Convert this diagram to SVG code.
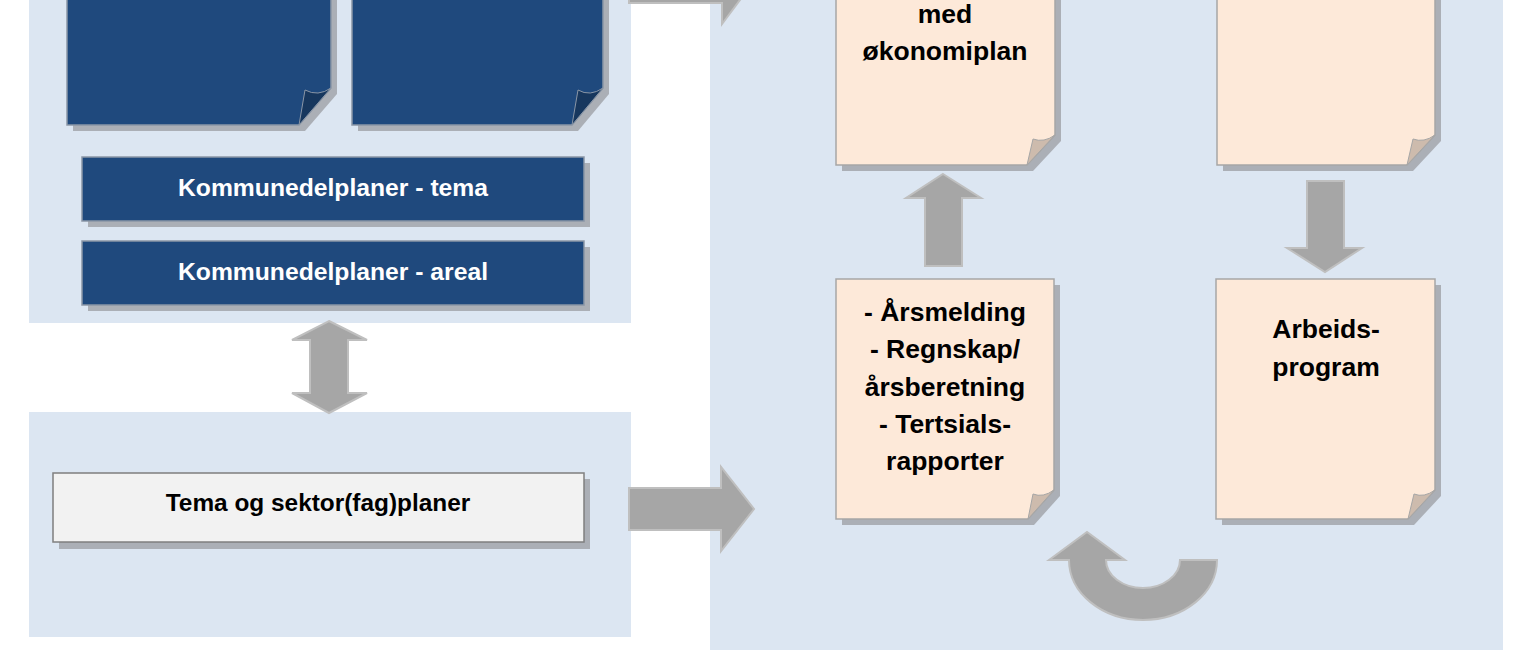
<svg xmlns="http://www.w3.org/2000/svg" width="1524" height="664" viewBox="0 0 1524 664">
<style>
.panel{fill:#DCE6F2}
.shadow{fill:#ABAFB6}
.dark{fill:#1F497D;stroke:#8A96A6;stroke-width:1.5}
.darkflap{fill:#17375E;stroke:#8A96A6;stroke-width:1}
.peach{fill:#FDE9D9;stroke:#A6A6A6;stroke-width:1.5}
.peachflap{fill:#CDBBAD;stroke:#A6A6A6;stroke-width:1}
.light{fill:#F2F2F2;stroke:#7F7F7F;stroke-width:1.5}
.arrow{fill:#A6A6A6;stroke:#BFBFBF;stroke-width:2;stroke-linejoin:miter}
.tw{font-family:"Liberation Sans",Arial,sans-serif;font-weight:bold;font-size:24.7px;fill:#FFFFFF;text-anchor:middle}
.tb{font-family:"Liberation Sans",Arial,sans-serif;font-weight:bold;font-size:24.4px;fill:#000000;text-anchor:middle}
.tn{font-family:"Liberation Sans",Arial,sans-serif;font-weight:bold;font-size:26.5px;fill:#000000;text-anchor:middle}
</style>
<rect width="1524" height="664" fill="#FFFFFF"/>
<g id="panels">
<rect class="panel" x="29" y="0" width="602" height="323"/>
<rect class="panel" x="29" y="412" width="602" height="225"/>
<rect class="panel" x="710" y="0" width="793" height="650"/>
</g>
<g id="note-dark-1">
<path class="shadow" d="M73,-2 H337 V94 L305,131 H73 Z"/>
<path class="dark" d="M67,-2 H331 V88 L299,125 H67 Z"/>
<path class="darkflap" d="M331,88 Q318,97 305,90 L299,125 Z"/>
</g>
<g id="note-dark-2">
<path class="shadow" d="M358,-2 H609 V94 L578,131 H358 Z"/>
<path class="dark" d="M352,-2 H603 V88 L572,125 H352 Z"/>
<path class="darkflap" d="M603,88 Q590,97 578,90 L572,125 Z"/>
</g>
<g id="kdp-tema">
<rect class="shadow" x="88" y="163" width="502" height="64"/>
<rect class="dark" x="82" y="157" width="502" height="64"/>
<text class="tw" x="333" y="196">Kommunedelplaner - tema</text>
</g>
<g id="kdp-areal">
<rect class="shadow" x="88" y="247" width="502" height="64"/>
<rect class="dark" x="82" y="241" width="502" height="64"/>
<text class="tw" x="333" y="280">Kommunedelplaner - areal</text>
</g>
<g id="tema-sektor">
<rect class="shadow" x="59" y="479" width="531" height="70"/>
<rect class="light" x="53" y="473" width="531" height="69"/>
<text class="tb" x="318" y="511">Tema og sektor(fag)planer</text>
</g>
<g id="note-okonomiplan">
<path class="shadow" d="M842,-2 H1061 V141 L1033,171 H842 Z"/>
<path class="peach" d="M836,-2 H1055 V135 L1027,165 H836 Z"/>
<path class="peachflap" d="M1055,135 Q1044,143 1033,139 L1027,165 Z"/>
<text class="tn" x="945" y="23">med</text>
<text class="tn" x="945" y="60">økonomiplan</text>
</g>
<g id="note-top-right">
<path class="shadow" d="M1223,-2 H1441 V141 L1413,171 H1223 Z"/>
<path class="peach" d="M1217,-2 H1435 V135 L1407,165 H1217 Z"/>
<path class="peachflap" d="M1435,135 Q1424,143 1413,139 L1407,165 Z"/>
</g>
<g id="note-arsmelding">
<path class="shadow" d="M842,285 H1060 V496 L1034,525 H842 Z"/>
<path class="peach" d="M836,279 H1054 V490 L1028,519 H836 Z"/>
<path class="peachflap" d="M1054,490 Q1043,498 1033,494 L1028,519 Z"/>
<text class="tn" x="945" y="321">- Årsmelding</text>
<text class="tn" x="945" y="358">- Regnskap/</text>
<text class="tn" x="945" y="396">årsberetning</text>
<text class="tn" x="945" y="433">- Tertsials-</text>
<text class="tn" x="945" y="470">rapporter</text>
</g>
<g id="note-arbeidsprogram">
<path class="shadow" d="M1222,285 H1441 V496 L1414,525 H1222 Z"/>
<path class="peach" d="M1216,279 H1435 V490 L1408,519 H1216 Z"/>
<path class="peachflap" d="M1435,490 Q1424,498 1414,494 L1408,519 Z"/>
<text class="tn" x="1326" y="338">Arbeids-</text>
<text class="tn" x="1326" y="376">program</text>
</g>
<g id="connectors">
<path class="arrow" d="M629,-38 H722 V-59 L753,-17.5 L722,24 V3 H629 Z"/>
<path class="arrow" d="M629,488 H721 V467 L754,509 L721,551 V530 H629 Z"/>
<path class="arrow" d="M329,321 L367,340 H348 V393 H367 L329,413 L292,393 H310 V340 H292 Z"/>
<path class="arrow" d="M943,174 L981,198 H962 V266 H925 V198 H906 Z"/>
<path class="arrow" d="M1307,181 H1344 V248 H1362 L1325,272 L1287,248 H1307 Z"/>
<path class="arrow" d="M1049,560 L1087,532 L1125,560 H1106 A37,28 0 0 0 1180,560 H1217 A74,60 0 0 1 1069,560 Z"/>
</g>
</svg>
